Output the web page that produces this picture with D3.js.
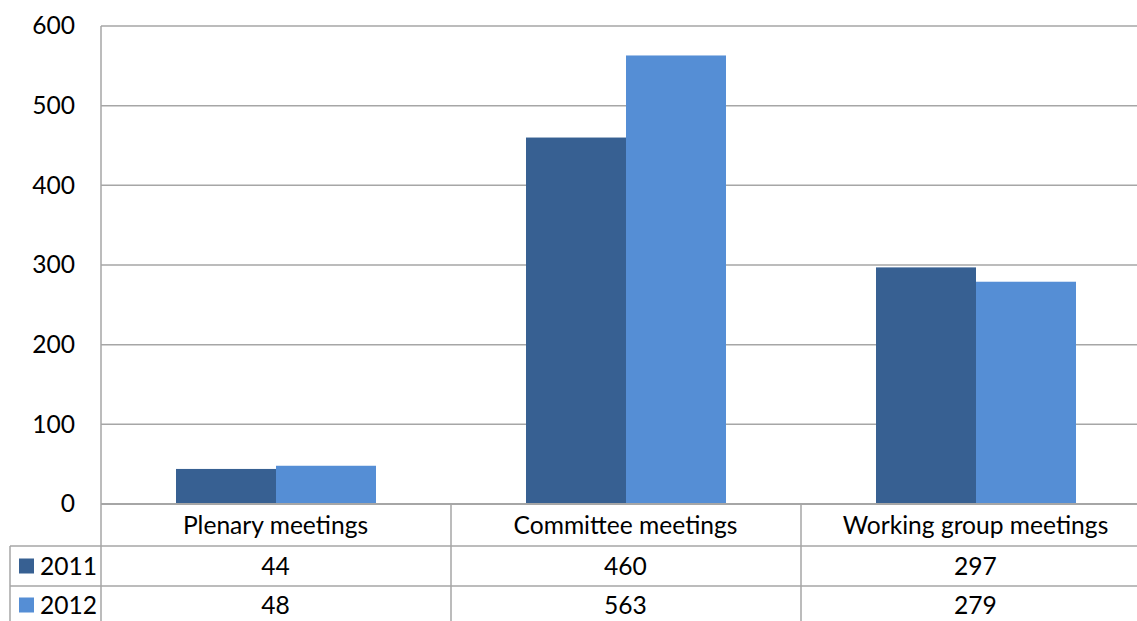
<!DOCTYPE html>
<html><head><meta charset="utf-8">
<script src="https://cdn.jsdelivr.net/npm/d3@7"></script>
<style>html,body{margin:0;padding:0;background:#fff;overflow:hidden}</style>
</head><body>
<script>
const categories = ["Plenary meetings", "Committee meetings", "Working group meetings"];
const seriesNames = ["2011", "2012"];
const values2011 = [44, 460, 297];
const values2012 = [48, 563, 279];
const yTicks = [0, 100, 200, 300, 400, 500, 600];

const seriesValues = [values2011, values2012];
const colors = ["#376092", "#558ED5"];
const W = 1137, H = 621;
const font = "Lato, 'Open Sans', sans-serif";
const fs = 24.6;
const grid = "#a6a6a6";

const svg = d3.select("body").append("svg").attr("width", W).attr("height", H);

const plotL = 101, plotR = 1151, plotT = 26, plotB = 504;
const x0 = d3.scaleBand().domain(categories).range([plotL, plotR]);
const x1 = d3.scaleBand().domain(seriesNames).range([75, 275]);
const y = d3.scaleLinear().domain([0, 600]).range([plotB, plotT]);

// gridlines
svg.append("g").selectAll("line").data(yTicks.filter(d => d > 0)).join("line")
  .attr("x1", plotL).attr("x2", W).attr("y1", d => y(d)).attr("y2", d => y(d))
  .attr("stroke", grid).attr("stroke-width", 1.5);

// y axis labels
const yAxis = d3.axisLeft(y).tickValues(yTicks).tickSize(0).tickPadding(26);
const ya = svg.append("g").attr("transform", `translate(${plotL},0)`).call(yAxis);
ya.select(".domain").remove();
ya.selectAll("text").attr("font-family", font).attr("font-size", fs).attr("fill", "#000");

// bars
const bars = [];
categories.forEach((c, i) => seriesNames.forEach((s, j) => bars.push({c, s, v: seriesValues[j][i], j})));
svg.append("g").selectAll("rect").data(bars).join("rect")
  .attr("x", d => x0(d.c) + x1(d.s)).attr("width", x1.bandwidth())
  .attr("y", d => y(d.v)).attr("height", d => y(0) - y(d.v))
  .attr("fill", d => colors[d.j]);

// table
const rowH = [504, 546, 586, 626];
const tableL = 10;
const g = svg.append("g");
g.append("line").attr("x1", plotL).attr("x2", W).attr("y1", rowH[0]).attr("y2", rowH[0]).attr("stroke", grid).attr("stroke-width", 2);
[rowH[1], rowH[2]].forEach(yy => g.append("line").attr("x1", tableL).attr("x2", W).attr("y1", yy).attr("y2", yy).attr("stroke", grid).attr("stroke-width", 1.5));
g.append("line").attr("x1", plotL).attr("x2", plotL).attr("y1", plotT).attr("y2", H).attr("stroke", grid).attr("stroke-width", 1.5);
g.append("line").attr("x1", tableL).attr("x2", tableL).attr("y1", rowH[1]).attr("y2", H).attr("stroke", grid).attr("stroke-width", 1.5);
categories.slice(1).forEach(c => g.append("line").attr("x1", x0(c)).attr("x2", x0(c)).attr("y1", rowH[0]).attr("y2", H).attr("stroke", grid).attr("stroke-width", 1.5));

// category labels
g.selectAll("text.cat").data(categories).join("text").attr("class", "cat")
  .attr("x", d => x0(d) + x0.bandwidth() / 2 - 0.5).attr("y", 525)
  .attr("dy", "0.35em").attr("text-anchor", "middle")
  .attr("font-family", font).attr("font-size", fs).text(d => d);

// rows
seriesNames.forEach((s, j) => {
  const ry = j === 0 ? 566 : 605;
  g.append("rect").attr("x", 19).attr("y", ry - 7.5).attr("width", 15).attr("height", 15).attr("fill", colors[j]);
  g.append("text").attr("x", 40).attr("y", ry).attr("dy", "0.35em")
    .attr("font-family", font).attr("font-size", fs).text(s);
  g.selectAll(null).data(categories).join("text")
    .attr("x", d => x0(d) + x0.bandwidth() / 2 - 0.5).attr("y", ry).attr("dy", "0.35em")
    .attr("text-anchor", "middle").attr("font-family", font).attr("font-size", fs)
    .text((d, i) => seriesValues[j][i]);
});
</script>
</body></html>
